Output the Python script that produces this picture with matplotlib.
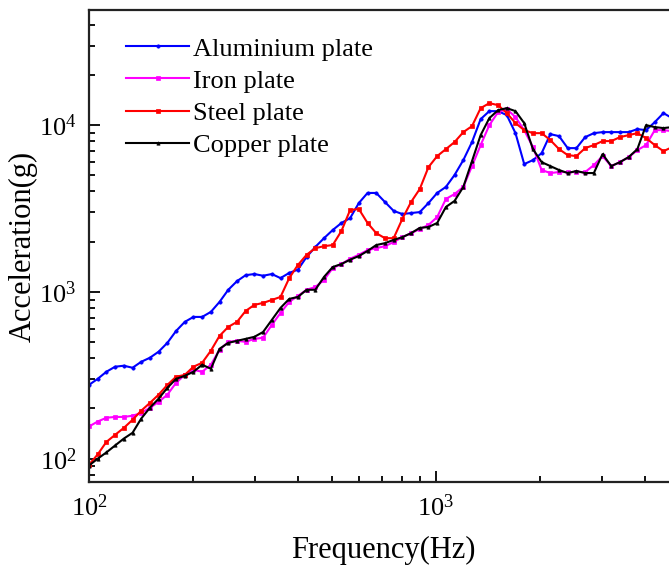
import matplotlib
matplotlib.use("Agg")
import matplotlib.pyplot as plt
from matplotlib.ticker import LogLocator, NullFormatter

plt.rcParams['font.family'] = ['Liberation Serif', 'DejaVu Serif']
plt.rcParams['mathtext.fontset'] = 'stix'

# 1/12-octave frequencies (Hz)
freq = [100, 105.9, 112.2, 118.9, 126.0, 133.5, 141.4, 149.8, 158.7, 168.2,
        178.2, 188.8, 200, 211.9, 224.5, 237.8, 252.0, 267.0, 282.8, 299.7,
        317.5, 336.4, 356.4, 377.6, 400, 423.8, 449.0, 475.7, 504.0, 534.0,
        565.7, 599.3, 635.0, 672.7, 712.7, 755.1, 800, 847.6, 898.0, 951.4,
        1008, 1068, 1131, 1199, 1270, 1345, 1425, 1510, 1600, 1695,
        1796, 1903, 2016, 2136, 2263, 2397, 2540, 2691, 2851, 3020,
        3200, 3390, 3592, 3805, 4032, 4271, 4525, 4794]

aluminium = [277, 301, 332, 356, 361, 351, 381, 403, 438, 495,
             583, 661, 708, 708, 759, 871, 1030, 1160, 1260, 1280,
             1250, 1280, 1210, 1300, 1360, 1620, 1860, 2100, 2350, 2590,
             2770, 3410, 3920, 3920, 3460, 3060, 2930, 2970, 3010, 3410,
             3920, 4260, 5020, 6170, 7910, 10860, 12130, 12130, 11480, 8950,
             5840, 6170, 6790, 8830, 8590, 7280, 7280, 8470, 8950, 9080,
             9080, 9080, 9080, 9460, 9330, 10420, 11800, 11010]

iron = [156, 167, 176, 178, 178, 181, 188, 202, 219, 242,
        285, 318, 341, 332, 366, 450, 502, 509, 502, 523,
        531, 634, 748, 871, 946, 1030, 1070, 1180, 1390, 1470,
        1580, 1670, 1780, 1830, 1880, 1990, 2130, 2250, 2380, 2520,
        2810, 3610, 3860, 4260, 5680, 7590, 10000, 11960, 12470, 11170,
        9330, 7380, 5380, 5160, 5230, 5230, 5230, 5230, 5760, 6520,
        5680, 6000, 6430, 7080, 7590, 9330, 9330, 9200]

steel = [92, 106, 126, 139, 153, 171, 194, 216, 242, 277,
         310, 318, 356, 376, 444, 545, 617, 661, 769, 836,
         859, 895, 933, 1210, 1450, 1670, 1830, 1880, 1910, 2320,
         3100, 3140, 2590, 2250, 2100, 2100, 2740, 3460, 4140, 5600,
         6520, 7180, 7910, 9080, 9860, 12640, 13540, 13180, 11800, 10280,
         9330, 8950, 8950, 8130, 7180, 6610, 6520, 7280, 7590, 8020,
         8020, 8470, 8710, 8950, 8360, 7590, 6980, 7380]

copper = [91, 100, 109, 120, 132, 143, 174, 202, 229, 266,
          301, 314, 332, 366, 346, 456, 495, 509, 523, 538,
          575, 679, 802, 908, 933, 1030, 1030, 1230, 1410, 1470,
          1560, 1640, 1760, 1910, 1960, 2050, 2130, 2250, 2420, 2450,
          2590, 3230, 3510, 4260, 6080, 8710, 11010, 12300, 12640, 12130,
          10280, 7180, 6000, 5680, 5380, 5160, 5310, 5160, 5160, 6700,
          5680, 6000, 6430, 7180, 10000, 9730, 9600, 9730]

labels = ['Aluminium plate', 'Iron plate', 'Steel plate', 'Copper plate']
colors = ['#0000FF', '#FF00FF', '#FF0000', '#000000']
markers = ['o', 's', 's', '^']
series = [aluminium, iron, steel, copper]

fig = plt.figure(figsize=(6.69, 5.66), dpi=100)
ax = fig.add_axes([89 / 669, 84 / 566, 589.5 / 669, 472 / 566])

for ys, lab, c, m in zip(series, labels, colors, markers):
    ax.plot(freq, ys, color=c, lw=1.5, marker=m, markersize=2.4,
            markeredgewidth=0.5, label=lab)

ax.set_xscale('log')
ax.set_yscale('log')
ax.set_xlim(100, 5000)
ax.set_ylim(72.5, 49000)

ax.xaxis.set_major_locator(LogLocator(base=10, numticks=10))
ax.yaxis.set_major_locator(LogLocator(base=10, numticks=10))
ax.xaxis.set_minor_locator(LogLocator(base=10, subs=range(2, 10), numticks=20))
ax.yaxis.set_minor_locator(LogLocator(base=10, subs=range(2, 10), numticks=20))
ax.xaxis.set_minor_formatter(NullFormatter())
ax.yaxis.set_minor_formatter(NullFormatter())

ax.tick_params(which='both', direction='in', top=False, right=False,
               labelsize=19, width=1.3, colors='black')
ax.tick_params(which='major', length=8, pad=9)
ax.tick_params(which='minor', length=4.5)
for s in ax.spines.values():
    s.set_linewidth(1.6)
    s.set_color('#222222')

ax.set_xlabel('Frequency(Hz)', fontsize=22, labelpad=11)
ax.set_ylabel('Acceleration(g)', fontsize=22, labelpad=1)

leg = ax.legend(loc='upper left', bbox_to_anchor=(0.045, 0.965), frameon=False,
                fontsize=19, handlelength=2.4, handletextpad=0.15,
                labelspacing=0.33, borderaxespad=0, markerscale=1.0)

fig.savefig('out.png', dpi=100)
